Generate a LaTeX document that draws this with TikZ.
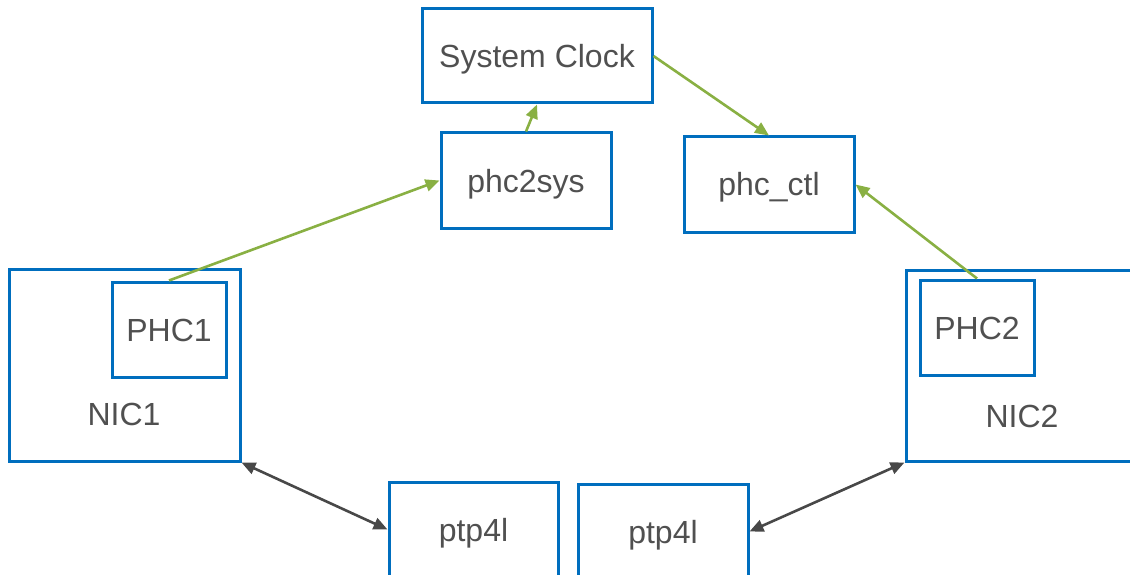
\documentclass[tikz,border=0pt]{standalone}
\usepackage{fontspec}
\setmainfont{Liberation Sans}
\usetikzlibrary{arrows.meta}
\definecolor{boxblue}{RGB}{0,110,190}
\definecolor{arrgreen}{RGB}{137,176,67}
\definecolor{arrgray}{RGB}{72,72,72}
\definecolor{txtgray}{RGB}{80,80,80}
\begin{document}
\begin{tikzpicture}[x=1pt,y=-1pt,
  box/.style={draw=boxblue,line width=3pt,rectangle,inner sep=0pt,text=txtgray,font=\fontsize{32}{36}\selectfont,text height=23pt,text depth=0pt},
  lbl/.style={text=txtgray,font=\fontsize{32}{36}\selectfont,inner sep=0pt,text height=23pt,text depth=0pt},
  garr/.style={draw=arrgreen,line width=2.6pt,-{Triangle[length=14pt,width=12pt]}},
  darr/.style={draw=arrgray,line width=2.6pt,{Triangle[length=14pt,width=12pt]}-{Triangle[length=14pt,width=12pt]}}]
\useasboundingbox (0,0) rectangle (1130,575);
\clip (0,0) rectangle (1130,575);
\node[box,minimum width=230pt,minimum height=94pt] (sys) at (537,56) {System Clock};
\node[box,minimum width=170pt,minimum height=95pt] (p2s) at (526,180.5) {phc2sys};
\node[box,minimum width=170pt,minimum height=95pt] (ctl) at (769,184.5) {phc\_ctl};
\node[box,minimum width=231pt,minimum height=192pt] (nic1) at (124.5,365) {};
\node[lbl] (nic1l) at (124,414) {NIC1};
\node[box,minimum width=114pt,minimum height=95pt] (phc1) at (169,329.5) {PHC1};
\node[box,minimum width=232pt,minimum height=191pt] (nic2) at (1022,365.5) {};
\node[lbl] (nic2l) at (1022,416) {NIC2};
\node[box,minimum width=114pt,minimum height=95pt] (phc2) at (977,327.5) {PHC2};
\node[box,minimum width=169pt,minimum height=95pt] (ptpa) at (473.5,529.5) {ptp4l};
\node[box,minimum width=170pt,minimum height=95pt] (ptpb) at (663,531.5) {ptp4l};
\draw[garr] (phc1.north) -- (p2s.west);
\draw[garr] (p2s.north) -- (sys.south);
\draw[garr] (sys.east) -- (ctl.north);
\draw[garr] (phc2.north) -- (ctl.east);
\draw[darr] (nic1.south east) -- (ptpa.west);
\draw[darr] (ptpb.east) -- (nic2.south west);
\end{tikzpicture}
\end{document}
